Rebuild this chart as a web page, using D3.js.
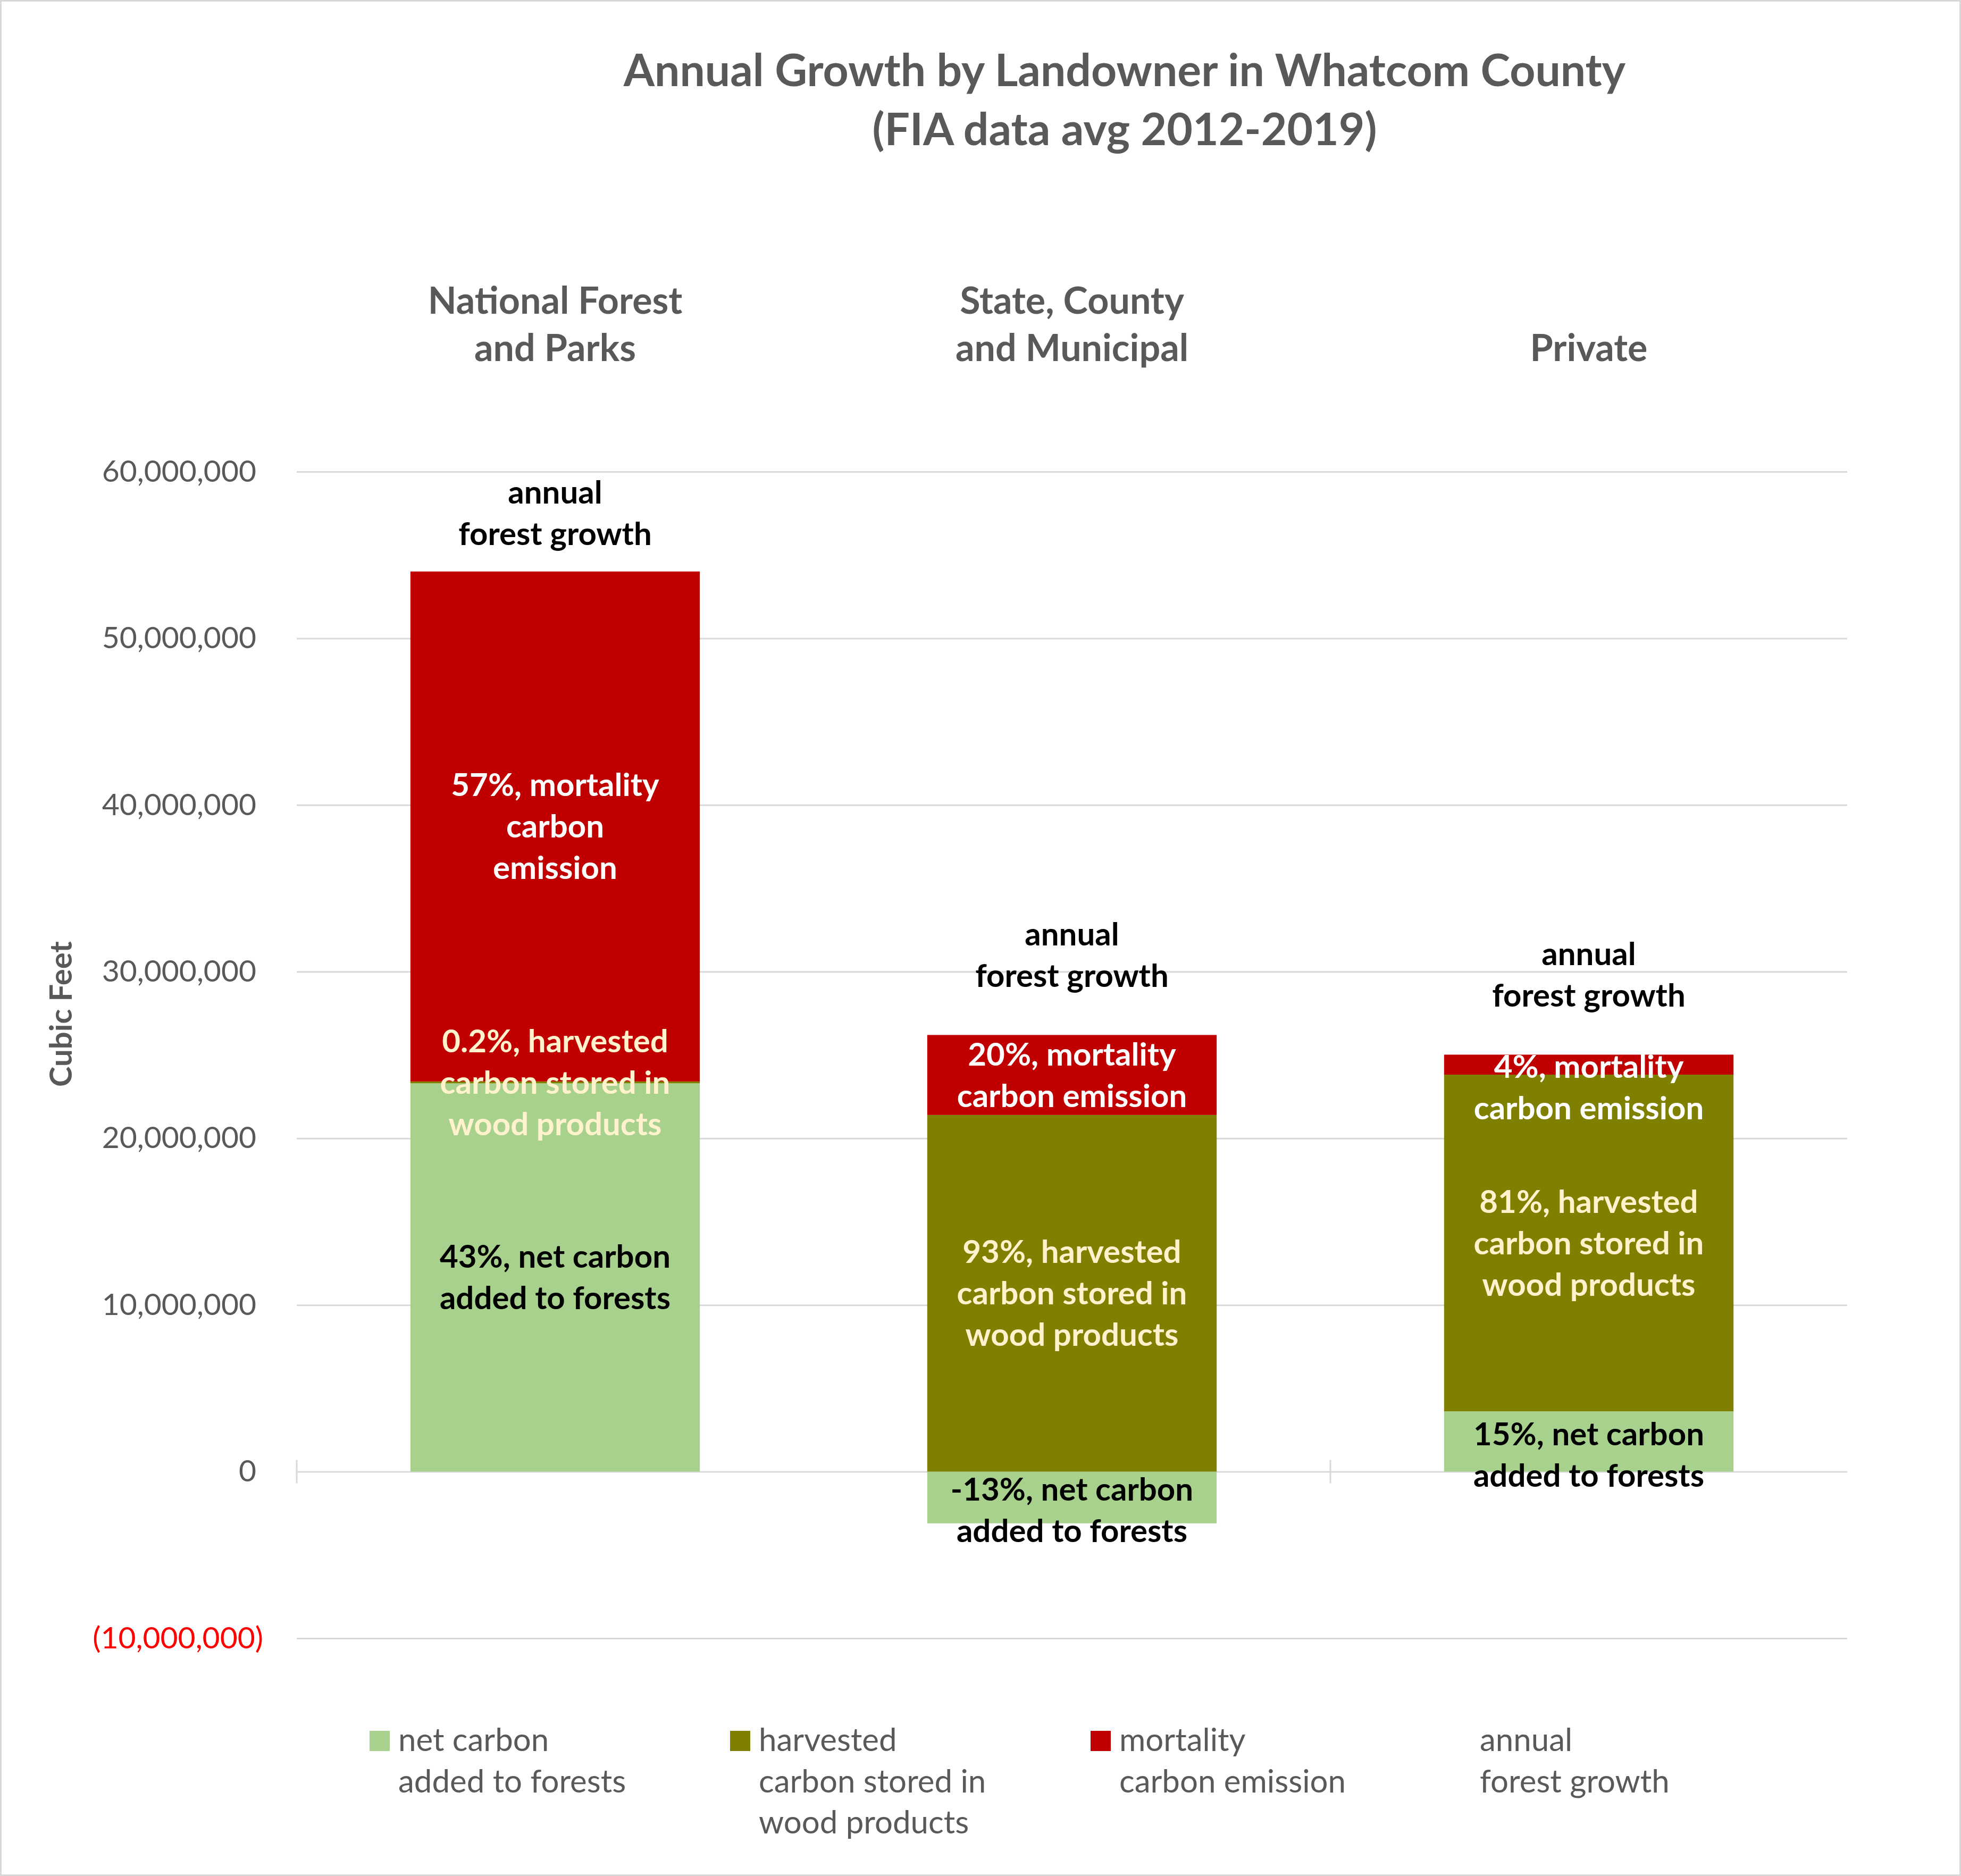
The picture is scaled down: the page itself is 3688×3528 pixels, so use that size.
<!DOCTYPE html>
<html>
<head>
<meta charset="utf-8">
<script src="https://cdn.jsdelivr.net/npm/d3@7"></script>
<style>
  body { margin: 0; background: #fff; }
  text { font-family: Lato, "Open Sans", sans-serif; }
</style>
</head>
<body>
<script>
// landowner groups, label text split the way the chart wraps it
var categories = ["National Forest and Parks", "State, County and Municipal", "Private"];
var categoryLines = [["National Forest", "and Parks"], ["State, County", "and Municipal"], ["", "Private"]];

// cubic feet per year
var netCarbon = [23300000, -3100000, 3620000];
var harvested = [110000, 21400000, 20200000];
var mortality = [30600000, 4800000, 1200000];

var netLabels = [["43%, net carbon", "added to forests"], ["-13%, net carbon", "added to forests"], ["15%, net carbon", "added to forests"]];
var harvLabels = [["0.2%, harvested", "carbon stored in", "wood products"], ["93%, harvested", "carbon stored in", "wood products"], ["81%, harvested", "carbon stored in", "wood products"]];
var mortLabels = [["57%, mortality", "carbon", "emission"], ["20%, mortality", "carbon emission"], ["4%, mortality", "carbon emission"]];
var growthLabel = ["annual", "forest growth"];

var yTicks = [-10000000, 0, 10000000, 20000000, 30000000, 40000000, 50000000, 60000000];

var seriesKeys = ["net", "harv", "mort"];
var seriesColors = {net: "#A9D18E", harv: "#808000", mort: "#C00000"};
var labelColors = {net: "#000000", harv: "#FFF2CC", mort: "#FFFFFF"};
var legendItems = [
  {key: "net", lines: ["net carbon", "added to forests"]},
  {key: "harv", lines: ["harvested", "carbon stored in", "wood products"]},
  {key: "mort", lines: ["mortality", "carbon emission"]},
  {key: null, lines: ["annual", "forest growth"]}
];

var W = 3688, H = 3528;
var svg = d3.select("body").append("svg")
  .attr("width", W).attr("height", H);

svg.append("rect").attr("x", 1.5).attr("y", 1.5)
  .attr("width", W - 3).attr("height", H - 3)
  .attr("fill", "#fff").attr("stroke", "#D9D9D9").attr("stroke-width", 3);

var x = d3.scaleBand().domain(categories)
  .range([558, 3474]).paddingInner(0.44).paddingOuter(0.22);
var y = d3.scaleLinear().domain([-10000000, 60000000]).range([3081, 887]);

// title
svg.append("g").selectAll("text")
  .data(["Annual Growth by Landowner in Whatcom County", "(FIA data avg 2012-2019)"])
  .enter().append("text")
  .attr("x", 2115).attr("y", function(d, i) { return 162 + i * 111; })
  .attr("text-anchor", "middle")
  .attr("font-size", 84).attr("font-weight", "bold").attr("fill", "#595959")
  .text(function(d) { return d; });

// y axis + gridlines
var yAxis = svg.append("g")
  .attr("transform", "translate(558,0)")
  .call(d3.axisLeft(y).tickValues(yTicks).tickSize(-2916).tickPadding(76)
    .tickFormat(function(d) { return d < 0 ? "(" + d3.format(",")(-d) + ")" : d3.format(",")(d); }));
yAxis.select(".domain").remove();
yAxis.selectAll(".tick line").attr("stroke", "#D9D9D9").attr("stroke-width", 3);
yAxis.selectAll(".tick text")
  .attr("font-size", 57).attr("font-family", "Lato, sans-serif")
  .attr("fill", function(d) { return d < 0 ? "#FF0000" : "#595959"; })
  .attr("x", function(d) { return d < 0 ? -63 : -76; });

// cross ticks on the category axis
svg.append("g").selectAll("line")
  .data([0, 2])
  .enter().append("line")
  .attr("x1", function(d) { return x.range()[0] + d * x.step(); })
  .attr("x2", function(d) { return x.range()[0] + d * x.step(); })
  .attr("y1", y(0) - 22).attr("y2", y(0) + 22)
  .attr("stroke", "#D9D9D9").attr("stroke-width", 3);

svg.append("text")
  .attr("transform", "translate(135,1907) rotate(-90)")
  .attr("text-anchor", "middle")
  .attr("font-size", 58).attr("font-weight", "bold").attr("fill", "#595959")
  .text("Cubic Feet");

// category labels above the plot
categories.forEach(function(c, i) {
  svg.append("g").selectAll("text")
    .data(categoryLines[i])
    .enter().append("text")
    .attr("x", x(c) + x.bandwidth() / 2)
    .attr("y", function(d, k) { return 590 + k * 89; })
    .attr("text-anchor", "middle")
    .attr("font-size", 70).attr("font-weight", "bold").attr("fill", "#595959")
    .text(function(d) { return d; });
});

// stacked bars
var rows = categories.map(function(c, i) {
  return {cat: c, net: netCarbon[i], harv: harvested[i], mort: mortality[i]};
});
var stack = d3.stack().keys(seriesKeys).offset(d3.stackOffsetDiverging);
var layers = stack(rows);

svg.append("g").selectAll("g")
  .data(layers)
  .enter().append("g")
  .attr("fill", function(d) { return seriesColors[d.key]; })
  .selectAll("rect")
  .data(function(d) { return d; })
  .enter().append("rect")
  .attr("x", function(d) { return x(d.data.cat); })
  .attr("width", x.bandwidth())
  .attr("y", function(d) { return y(Math.max(d[0], d[1])); })
  .attr("height", function(d) { return Math.abs(y(d[0]) - y(d[1])); });

// segment labels
var labelSets = {net: netLabels, harv: harvLabels, mort: mortLabels};
var fs = 60, lh = 78;
// the labels of the thin segments sit a little lower in the original
var nudge = {"mort-2": 43, "net-1": 24, "net-2": 25};
function multiline(g, lines, cx, cy, color) {
  g.append("g").selectAll("text")
    .data(lines)
    .enter().append("text")
    .attr("x", cx)
    .attr("y", function(d, k) { return cy + (k - (lines.length - 1) / 2) * lh + 21; })
    .attr("text-anchor", "middle")
    .attr("font-size", fs).attr("font-weight", "bold").attr("fill", color)
    .text(function(d) { return d; });
}
var labelG = svg.append("g");
layers.forEach(function(layer) {
  layer.forEach(function(d, i) {
    var cx = x(d.data.cat) + x.bandwidth() / 2;
    var cy = (y(d[0]) + y(d[1])) / 2 + (nudge[layer.key + "-" + i] || 0);
    multiline(labelG, labelSets[layer.key][i], cx, cy, labelColors[layer.key]);
  });
});

// annual forest growth label over each stack
var tops = layers[layers.length - 1];
tops.forEach(function(d, i) {
  var cx = x(d.data.cat) + x.bandwidth() / 2;
  var gap = i === 0 ? 50 : 90;
  var base = y(d[1]) - gap;
  labelG.append("g").selectAll("text")
    .data(growthLabel)
    .enter().append("text")
    .attr("x", cx)
    .attr("y", function(t, k) { return base - (growthLabel.length - 1 - k) * lh; })
    .attr("text-anchor", "middle")
    .attr("font-size", fs).attr("font-weight", "bold").attr("fill", "#000")
    .text(function(t) { return t; });
});

// legend
var legend = svg.append("g").selectAll("g")
  .data(legendItems)
  .enter().append("g")
  .attr("transform", function(d, i) { return "translate(" + (695 + i * 678) + ",0)"; });
legend.filter(function(d) { return d.key; })
  .append("rect")
  .attr("x", 0).attr("y", 3255).attr("width", 38).attr("height", 38)
  .attr("fill", function(d) { return seriesColors[d.key]; });
legend.each(function(d) {
  d3.select(this).selectAll("text")
    .data(d.lines)
    .enter().append("text")
    .attr("x", 54)
    .attr("y", function(t, k) { return 3293 + k * 77.5; })
    .attr("font-size", 60).attr("fill", "#595959")
    .text(function(t) { return t; });
});
</script>
</body>
</html>
